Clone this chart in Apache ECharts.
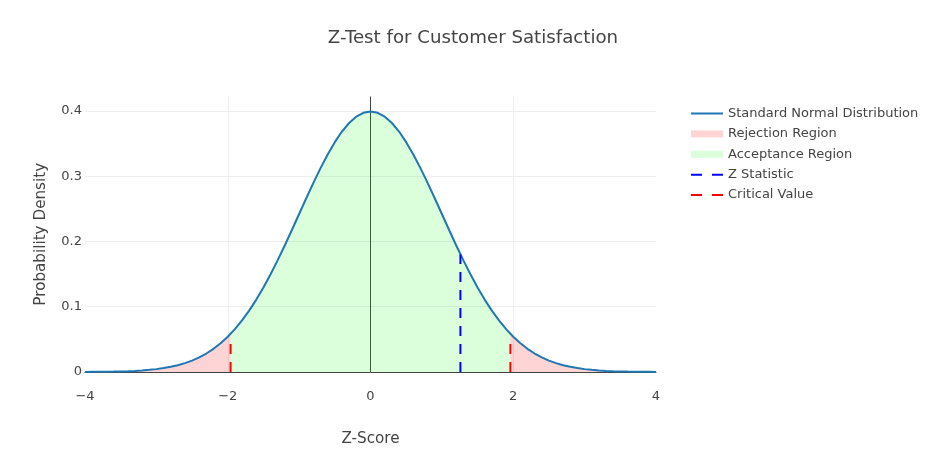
<!DOCTYPE html>
<html>
<head>
<meta charset="utf-8">
<title>Z-Test for Customer Satisfaction</title>
<script src="https://cdn.jsdelivr.net/npm/echarts@6/dist/echarts.min.js"></script>
<style>
  html, body { margin: 0; padding: 0; background: #fff; }
  #chart { width: 945px; height: 476px; }
</style>
</head>
<body>
<div id="chart"></div>
<script>
// z grid and standard normal density
const zValues = [
  -4.0, -3.9, -3.8, -3.7, -3.6, -3.5, -3.4, -3.3, -3.2, -3.1,
  -3.0, -2.9, -2.8, -2.7, -2.6, -2.5, -2.4, -2.3, -2.2, -2.1,
  -2.0, -1.9, -1.8, -1.7, -1.6, -1.5, -1.4, -1.3, -1.2, -1.1,
  -1.0, -0.9, -0.8, -0.7, -0.6, -0.5, -0.4, -0.3, -0.2, -0.1,
  0.0, 0.1, 0.2, 0.3, 0.4, 0.5, 0.6, 0.7, 0.8, 0.9,
  1.0, 1.1, 1.2, 1.3, 1.4, 1.5, 1.6, 1.7, 1.8, 1.9,
  2.0, 2.1, 2.2, 2.3, 2.4, 2.5, 2.6, 2.7, 2.8, 2.9,
  3.0, 3.1, 3.2, 3.3, 3.4, 3.5, 3.6, 3.7, 3.8, 3.9, 4.0
]
const density = [
  0.0001, 0.0002, 0.0003, 0.0004, 0.0006, 0.0009, 0.0012, 0.0017, 0.0024, 0.0033,
  0.0044, 0.0060, 0.0079, 0.0104, 0.0136, 0.0175, 0.0224, 0.0283, 0.0355, 0.0440,
  0.0540, 0.0656, 0.0790, 0.0940, 0.1109, 0.1295, 0.1497, 0.1714, 0.1942, 0.2179,
  0.2420, 0.2661, 0.2897, 0.3123, 0.3332, 0.3521, 0.3683, 0.3814, 0.3910, 0.3970,
  0.3989, 0.3970, 0.3910, 0.3814, 0.3683, 0.3521, 0.3332, 0.3123, 0.2897, 0.2661,
  0.2420, 0.2179, 0.1942, 0.1714, 0.1497, 0.1295, 0.1109, 0.0940, 0.0790, 0.0656,
  0.0540, 0.0440, 0.0355, 0.0283, 0.0224, 0.0175, 0.0136, 0.0104, 0.0079, 0.0060,
  0.0044, 0.0033, 0.0024, 0.0017, 0.0012, 0.0009, 0.0006, 0.0004, 0.0003, 0.0002, 0.0001
]
const criticalZ = [-1.96, 1.96]
const densityAtCritical = 0.0584
const criticalLineTop = 0.045
const zStatistic = 1.26
const zStatisticTop = 0.18
const yGridLines = [0.1, 0.2, 0.3, 0.4]
const xGridLines = [-2, 2]

const curve = zValues.map((z, i) => [z, density[i]])
const edgeL = [criticalZ[0], densityAtCritical]
const edgeR = [criticalZ[1], densityAtCritical]
const rejectLeft = curve.filter(p => p[0] < criticalZ[0]).concat([edgeL])
const rejectRight = [edgeR].concat(curve.filter(p => p[0] > criticalZ[1]))
const accept = [edgeL].concat(curve.filter(p => p[0] > criticalZ[0] && p[0] < criticalZ[1]), [edgeR])

const FONT = '"DejaVu Sans", Verdana, sans-serif'
const TXT = '#444'
const PINK = 'rgba(255, 0, 0, 0.17)'
const GREEN = 'rgba(0, 255, 0, 0.14)'
const GRID = { color: '#eee', width: 1, type: 'solid' }

// legend glyphs
const ICON_SOLID = 'path://M0,0h32v2h-32z'
const ICON_DASH = 'path://M0,0h11v2h-11zM21,0h11v2h-11z'
const ICON_BAND = 'path://M0,0h32v7h-32z'

const regionSeries = (name, data, color) => ({
  name: name,
  type: 'line',
  data: data,
  symbol: 'none',
  silent: true,
  lineStyle: { width: 0, color: color },
  itemStyle: { color: color },
  areaStyle: { color: color, opacity: 1 },
  z: 2
})

const dashSeries = (name, data, color) => ({
  name: name,
  type: 'line',
  data: data,
  symbol: 'none',
  clip: false,
  lineStyle: { width: 2, color: color, type: [10, 8] },
  itemStyle: { color: color },
  z: 4
})

const chart = echarts.init(document.getElementById('chart'))
const option = {
  backgroundColor: '#fff',
  animation: false,
  textStyle: { fontFamily: FONT, color: TXT },
  title: {
    text: 'Z-Test for Customer Satisfaction',
    left: 468,
    top: 24,
    textAlign: 'center',
    textStyle: { fontFamily: FONT, fontSize: 18.2, fontWeight: 'normal', color: TXT }
  },
  legend: {
    orient: 'vertical',
    left: 686,
    top: 102,
    itemWidth: 32,
    itemHeight: 14,
    itemGap: 7.4,
    symbolKeepAspect: true,
    textStyle: { fontFamily: FONT, fontSize: 13, color: TXT },
    data: [
      { name: 'Standard Normal Distribution', icon: ICON_SOLID },
      { name: 'Rejection Region', icon: ICON_BAND },
      { name: 'Acceptance Region', icon: ICON_BAND },
      { name: 'Z Statistic', icon: ICON_DASH },
      { name: 'Critical Value', icon: ICON_DASH }
    ]
  },
  grid: { left: 85, right: 289, top: 96.5, bottom: 104 },
  xAxis: {
    type: 'value',
    min: -4,
    max: 4,
    interval: 2,
    name: 'Z-Score',
    nameLocation: 'middle',
    nameGap: 60,
    nameTextStyle: { fontFamily: FONT, fontSize: 15.2, color: TXT },
    axisLine: { show: true, onZero: false, lineStyle: { color: '#444', width: 1 } },
    axisTick: { show: false },
    axisLabel: {
      margin: 18,
      fontSize: 13,
      color: TXT,
      fontFamily: FONT,
      formatter: v => String(v).replace('-', '\u2212')
    },
    splitLine: { show: false }
  },
  yAxis: {
    type: 'value',
    min: 0,
    max: 0.422,
    interval: 0.1,
    name: 'Probability Density',
    nameLocation: 'middle',
    nameGap: 36,
    nameTextStyle: { fontFamily: FONT, fontSize: 15.2, color: TXT },
    axisLine: { show: false },
    axisTick: { show: false },
    axisLabel: { margin: 3, fontSize: 13, color: TXT, fontFamily: FONT, showMaxLabel: false },
    splitLine: { show: false }
  },
  series: [
    {
      // helper: grid lines and the zero line, kept under the fills
      type: 'line',
      data: [],
      silent: true,
      z: 0,
      markLine: {
        silent: true,
        symbol: 'none',
        z: 0,
        label: { show: false },
        animation: false,
        data: yGridLines.map(v => ({ yAxis: v, lineStyle: GRID }))
          .concat(xGridLines.map(v => ({ xAxis: v, lineStyle: GRID })))
          .concat([{ xAxis: 0, lineStyle: { color: '#444', width: 1, type: 'solid' } }])
      }
    },
    regionSeries('Rejection Region', rejectLeft, PINK),
    regionSeries('Rejection Region', rejectRight, PINK),
    regionSeries('Acceptance Region', accept, GREEN),
    {
      name: 'Standard Normal Distribution',
      type: 'line',
      data: curve,
      symbol: 'none',
      clip: false,
      lineStyle: { width: 2, color: '#1f77b4' },
      itemStyle: { color: '#1f77b4' },
      z: 3
    },
    dashSeries('Z Statistic', [[zStatistic, 0], [zStatistic, zStatisticTop]], '#0000ff'),
    dashSeries('Critical Value', [[criticalZ[0], 0], [criticalZ[0], criticalLineTop]], '#ff0000'),
    dashSeries('Critical Value', [[criticalZ[1], 0], [criticalZ[1], criticalLineTop]], '#ff0000')
  ]
}

option && chart.setOption(option)

window.addEventListener('resize', function () {
  chart.resize()
})
</script>
</body>
</html>
